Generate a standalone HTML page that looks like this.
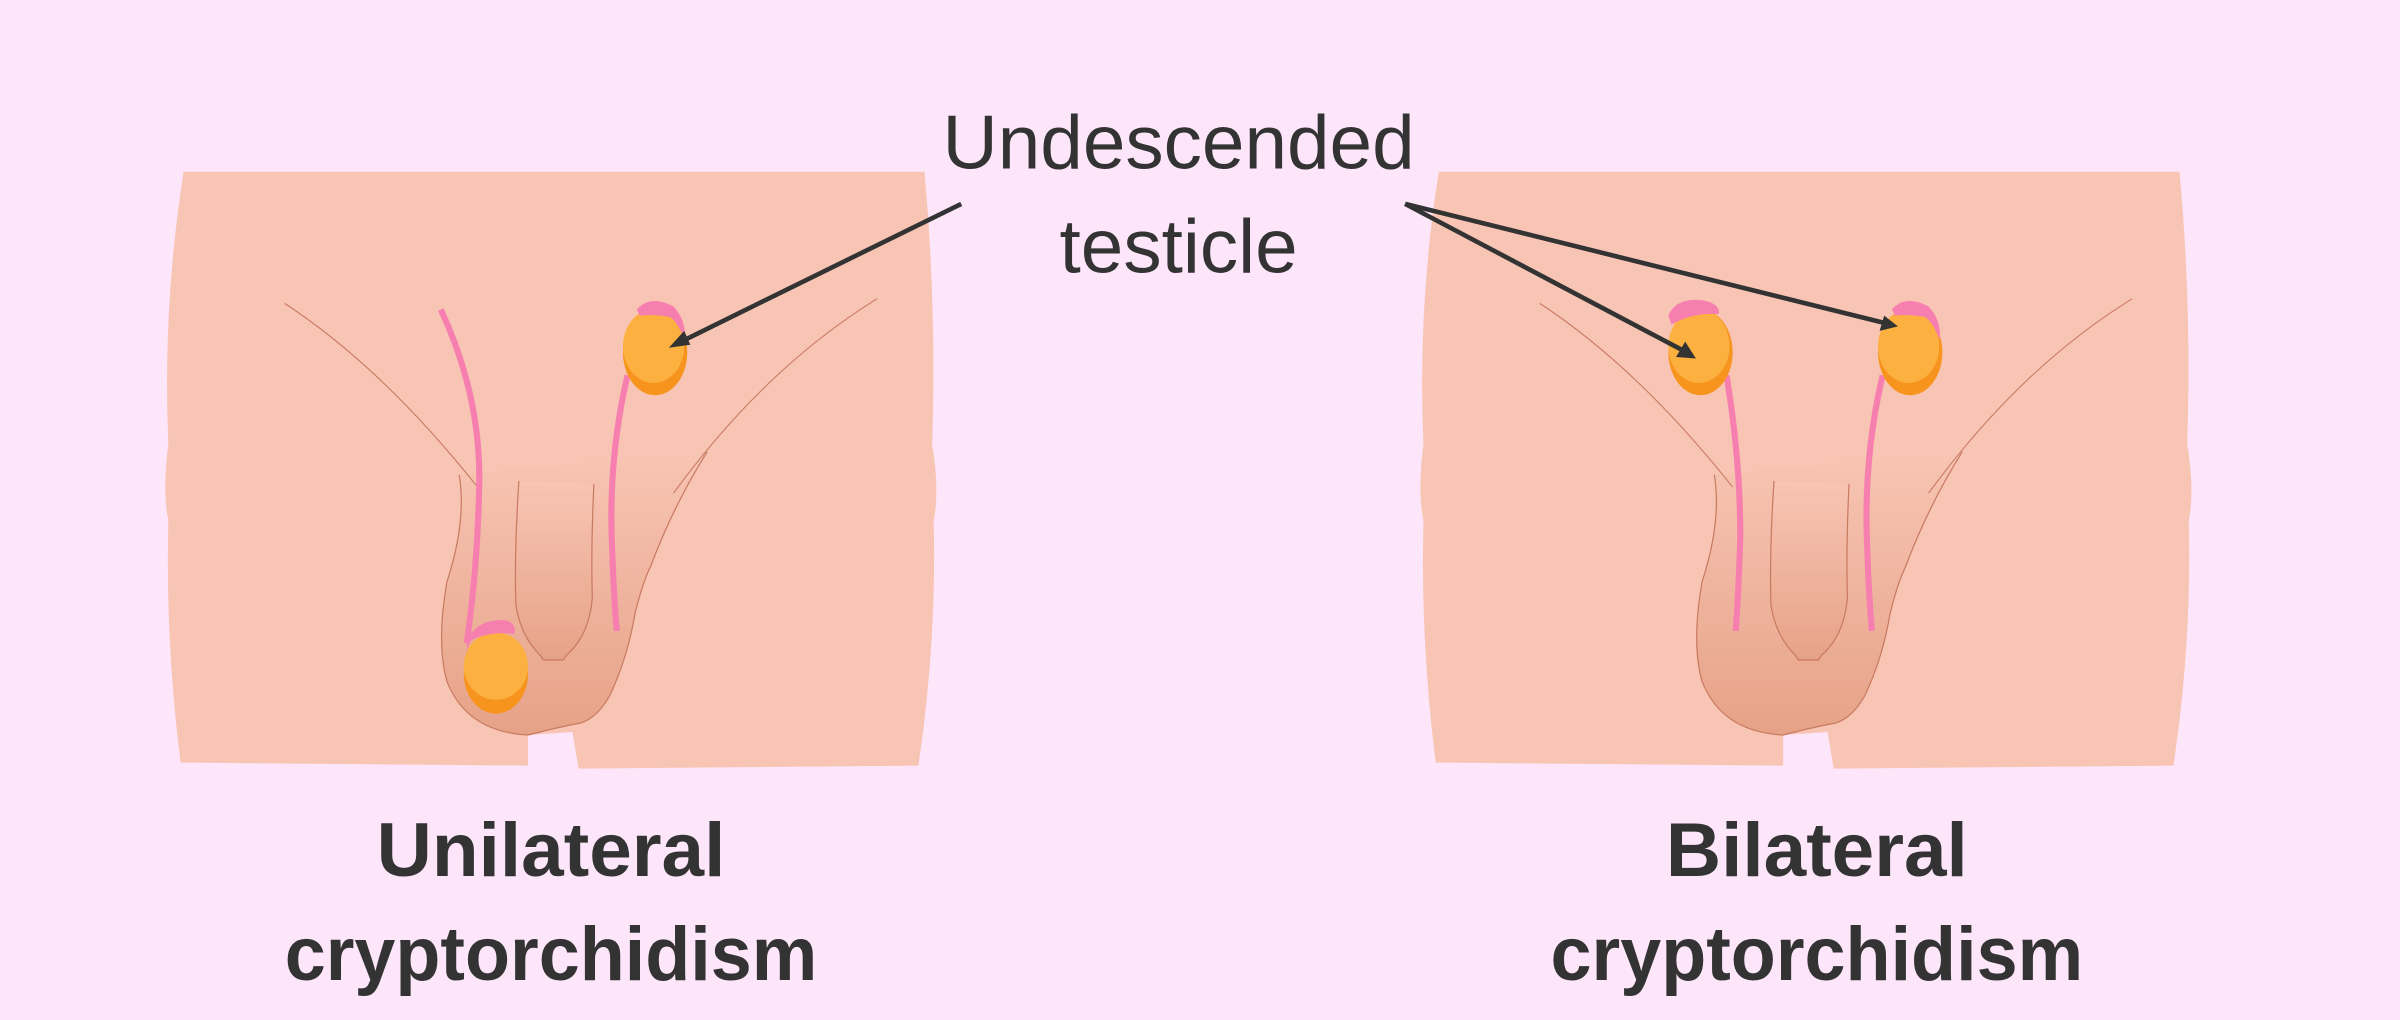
<!DOCTYPE html>
<html><head><meta charset="utf-8"><style>
html,body{margin:0;padding:0;background:#fde6fa;}
svg{display:block}
</style></head><body>
<svg width="2400" height="1020" viewBox="0 0 1568 666" xmlns="http://www.w3.org/2000/svg">
<defs>
<linearGradient id="g" x1="0" y1="0" x2="0" y2="1">
<stop offset="0" stop-color="#f8c5b4"/><stop offset="1" stop-color="#e6a287"/>
</linearGradient>
<g id="fig">
<path d="M120,112 L604,112 Q612,200 609,290 Q614,320 610,340 Q612,420 600,500 L378,502 L374,478 L345,480 L345,500 L118,498 Q108,420 110,340 Q106,320 110,290 Q106,200 120,112 Z" fill="#f8c5b4"/>
<path d="M300,310 Q305,340 292,380 Q285,420 292,445 Q305,478 345,480 Q360,476 375,473 Q388,472 398,455 Q410,430 415,400 Q420,380 425,370 Q440,330 462,295 Q430,300 400,300 L300,310 Z" fill="url(#g)"/>
<path d="M300,310 Q305,340 292,380 Q285,420 292,445 Q305,478 345,480 Q360,476 375,473 Q388,472 398,455 Q410,430 415,400 Q420,380 425,370 Q440,330 462,295" fill="none" stroke="#c87a60" stroke-width="0.8"/>
<path d="M186,198 Q250,240 312,318" fill="none" stroke="#c87a60" stroke-width="0.7"/>
<path d="M573,195 Q500,240 440,322" fill="none" stroke="#c87a60" stroke-width="0.7"/>
<path d="M339,314 L388,316 Q386,360 387,390 Q385,415 370,428 L368,431 L355,431 L353,428 Q340,415 337,395 Q335,380 337,360 Z" fill="url(#g)"/>
<path d="M339,314 Q336,360 337,395 Q340,415 353,428 L355,431 L368,431 L370,428 Q385,415 387,390 Q386,360 388,316" fill="none" stroke="#c87a60" stroke-width="0.8"/>
</g>
</defs>
<rect width="1568" height="666" fill="#fde6fa"/>
<use href="#fig"/>
<use href="#fig" x="820"/>
<path d="M288,202 Q315,260 313,320 Q312,370 305,420" fill="none" stroke="#f77fb0" stroke-width="4"/>
<path d="M410,245 Q397,300 400,360 Q401,390 403,412" fill="none" stroke="#f77fb0" stroke-width="4"/>
<ellipse cx="324" cy="440" rx="21" ry="26" fill="#f7941d"/>
<ellipse cx="324" cy="435" rx="21" ry="22" fill="#fbb040"/>
<path d="M305,420 Q310,404 330,405 Q338,407 336,414 Q320,412 308,418 Q304,425 305,428 Z" fill="#f77fb0"/>
<ellipse cx="428" cy="230" rx="21" ry="28" fill="#f7941d"/>
<ellipse cx="427" cy="226" rx="20" ry="24" fill="#fbb040"/>
<path d="M416,202 Q425,192 440,200 Q449,210 447,222 Q444,212 438,207 Q428,205 418,206 Z" fill="#f77fb0"/>
<path d="M1128,245 Q1137,300 1137,350 Q1136,385 1134,412" fill="none" stroke="#f77fb0" stroke-width="4"/>
<path d="M1230,245 Q1217,300 1220,360 Q1221,390 1223,412" fill="none" stroke="#f77fb0" stroke-width="4"/>
<ellipse cx="1111" cy="230" rx="21" ry="28" fill="#f7941d"/>
<ellipse cx="1110" cy="226" rx="20" ry="24" fill="#fbb040"/>
<path d="M1090,206 Q1095,194 1112,196 Q1124,198 1123,205 Q1105,204 1092,212 Z" fill="#f77fb0"/>
<ellipse cx="1248" cy="230" rx="21" ry="28" fill="#f7941d"/>
<ellipse cx="1247" cy="226" rx="20" ry="24" fill="#fbb040"/>
<path d="M1236,202 Q1245,192 1260,200 Q1269,210 1267,222 Q1264,212 1258,207 Q1248,205 1238,206 Z" fill="#f77fb0"/>
<g stroke="#333" stroke-width="3" fill="none">
<line x1="628" y1="133" x2="445" y2="223"/>
<line x1="918" y1="133" x2="1100" y2="229"/>
<line x1="918" y1="133" x2="1232" y2="211"/>
</g>
<g fill="#333">
<polygon points="437,227 447,216 451,225"/>
<polygon points="1108,234 1095,233 1101,223"/>
<polygon points="1240,213 1228,216 1231,206"/>
</g>
<g font-family="Liberation Sans, sans-serif" fill="#333" text-anchor="middle">
<text x="770" y="110" font-size="50">Undescended</text>
<text x="770" y="178" font-size="50">testicle</text>
<g font-weight="bold" font-size="50">
<text x="360" y="572">Unilateral</text>
<text x="360" y="640" textLength="348" lengthAdjust="spacingAndGlyphs">cryptorchidism</text>
<text x="1187" y="572">Bilateral</text>
<text x="1187" y="640" textLength="348" lengthAdjust="spacingAndGlyphs">cryptorchidism</text>
</g>
</g>
</svg>
</body></html>
